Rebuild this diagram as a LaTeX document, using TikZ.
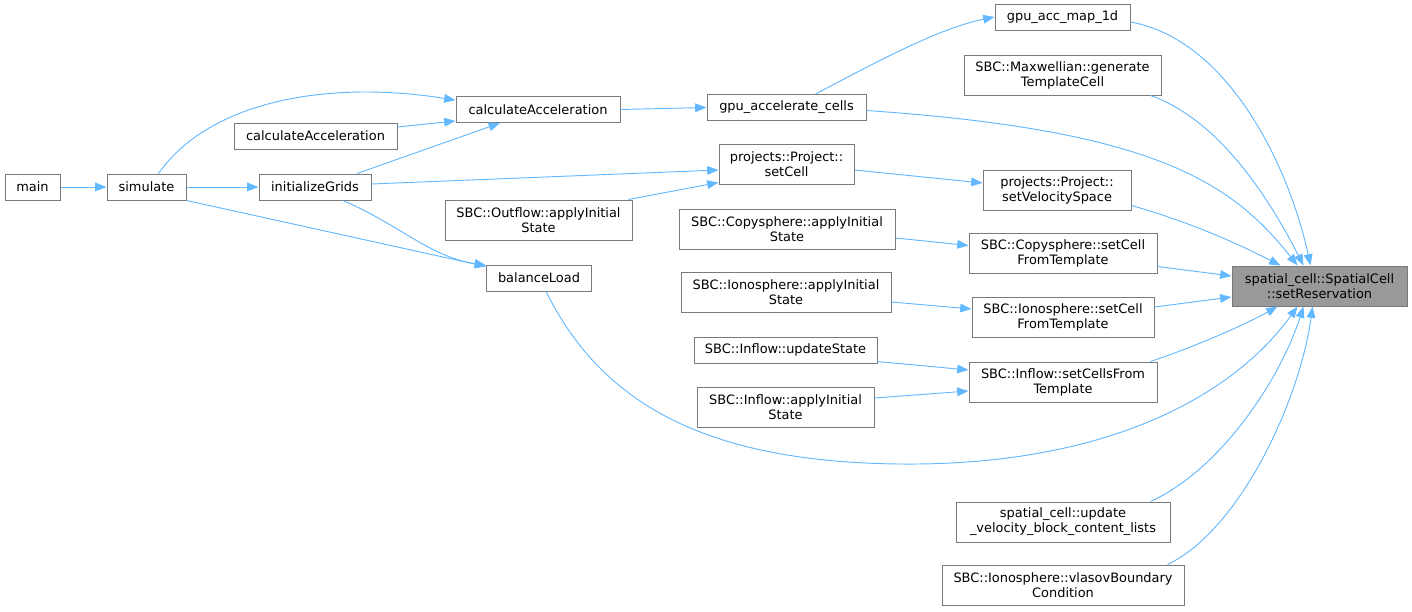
\documentclass[tikz,border=0pt]{standalone}
\usepackage{fontspec}
\setmainfont{DejaVu Sans}
\usetikzlibrary{arrows.meta}

\definecolor{edgeblue}{HTML}{63B8FF}
\definecolor{boxgray}{HTML}{7A7A7A}
\definecolor{rootgray}{HTML}{999999}

\tikzset{
  fn/.style={draw=boxgray, line width=0.75pt, fill=white, align=center, inner sep=1pt,
    font=\fontsize{9.7}{11.2}\selectfont},
  one/.style={fn, minimum height=19.5pt},
  two/.style={fn, minimum height=30pt},
  call/.style={->, draw=edgeblue, line width=0.7pt},
}

\begin{document}
\begin{tikzpicture}[x=0.75pt, y=-0.75pt, >={Triangle[length=8.5pt, width=6.5pt]}]
\useasboundingbox (0,0) rectangle (1412,611);

\node (main) [one, minimum width=41.25pt] at (32.5,187) {main};
\node (simulate) [one, minimum width=59.25pt] at (146.5,187) {simulate};
\node (initGrids) [one, minimum width=84pt] at (315,187) {initializeGrids};
\node (calcAccB) [one, minimum width=122.25pt] at (315.5,136) {calculateAcceleration};
\node (calcAcc) [one, minimum width=123pt] at (538,109.5) {calculateAcceleration};
\node (outflow) [two, minimum width=140.25pt] at (538.5,220) {SBC::Outflow::applyInitial\\State};
\node (balance) [one, minimum width=78.75pt] at (539,278) {balanceLoad};
\node (gpuCells) [one, minimum width=119.25pt] at (786.5,107.5) {gpu\_accelerate\_cells};
\node (setCell) [two, minimum width=101.25pt] at (786.5,164) {projects::Project::\\setCell};
\node (copyApply) [two, minimum width=162pt] at (787,229) {SBC::Copysphere::applyInitial\\State};
\node (ionoApply) [two, minimum width=157.5pt] at (786,292) {SBC::Ionosphere::applyInitial\\State};
\node (inflowUpd) [one, minimum width=137.25pt] at (785.5,350) {SBC::Inflow::updateState};
\node (inflowApply) [two, minimum width=132.75pt] at (785.5,407) {SBC::Inflow::applyInitial\\State};
\node (gpuMap) [one, minimum width=101.25pt] at (1062.5,17) {gpu\_acc\_map\_1d};
\node (maxwell) [two, minimum width=147.75pt] at (1062.5,75) {SBC::Maxwellian::generate\\TemplateCell};
\node (setVelSpace) [two, minimum width=111pt] at (1057,190) {projects::Project::\\setVelocitySpace};
\node (copySet) [two, minimum width=141pt] at (1063,253.5) {SBC::Copysphere::setCell\\FromTemplate};
\node (ionoSet) [two, minimum width=136.5pt] at (1063,317) {SBC::Ionosphere::setCell\\FromTemplate};
\node (inflowSet) [two, minimum width=141pt] at (1063,382) {SBC::Inflow::setCellsFrom\\Template};
\node (updLists) [two, minimum width=160.5pt] at (1063,522) {spatial\_cell::update\\\_velocity\_block\_content\_lists};
\node (vlasov) [two, minimum width=181.5pt] at (1063,585) {SBC::Ionosphere::vlasovBoundary\\Condition};
\node (setRes) [two, minimum width=131.25pt, fill=rootgray] at (1319.5,286) {spatial\_cell::SpatialCell\\::setReservation};

% left part of the call graph
\draw [call] (main.east) -- (simulate.west);
\draw [call] (simulate.east) -- (initGrids.west);
\draw [call] ([xshift=9pt]simulate.north) .. controls (210,100) and (330,80) .. ([yshift=7pt]calcAcc.west);
\draw [call] (simulate.south east) -- ([yshift=-1.5pt]balance.north west);
\draw [call] ([xshift=31.5pt]initGrids.north) -- ([xshift=-28.5pt]calcAcc.south);
\draw [call] ([yshift=2.25pt]initGrids.east) -- ([yshift=-4.5pt]setCell.west);
\draw [call] ([xshift=21pt]initGrids.south) .. controls (400,225) and (430,257) .. ([yshift=-0.5pt]balance.north west);
\draw [call] ([yshift=6.75pt]calcAccB.east) -- ([yshift=1.5pt]calcAcc.south west);
\draw [call] (calcAcc.east) -- (gpuCells.west);
\draw [call] ([xshift=21.75pt]gpuCells.north) .. controls (880,60) and (940,28) .. (gpuMap.west);
\draw [call] ([xshift=-3pt]outflow.north east) -- ([yshift=1.5pt]setCell.south west);
\draw [call] ([yshift=-4.5pt]setCell.east) -- ([yshift=5.25pt]setVelSpace.west);
\draw [call] ([yshift=-6.75pt]copyApply.east) -- ([yshift=6pt]copySet.west);
\draw [call] ([yshift=-7.5pt]ionoApply.east) -- ([yshift=6pt]ionoSet.west);
\draw [call] ([yshift=1.5pt]inflowUpd.south east) -- ([yshift=9pt]inflowSet.west);
\draw [call] ([yshift=6.75pt]inflowApply.east) -- ([yshift=-6.75pt]inflowSet.west);

% everything ends in setReservation
\draw [call] ([yshift=-3.75pt]gpuMap.east) .. controls (1230,40) and (1290,170) .. ([xshift=-6.75pt]setRes.north);
\draw [call] ([xshift=-8.25pt]maxwell.south east) .. controls (1220,120) and (1270,200) .. ([xshift=-12pt]setRes.north);
\draw [call] ([yshift=-2.25pt]gpuCells.east) .. controls (1150,130) and (1230,180) .. ([xshift=-16.5pt]setRes.north);
\draw [call] ([yshift=3.75pt]setVelSpace.south east) .. controls (1200,225) and (1250,250) .. ([xshift=-29.25pt]setRes.north);
\draw [call] ([yshift=-9.75pt]copySet.east) -- ([yshift=7.5pt]setRes.west);
\draw [call] ([yshift=7.5pt]ionoSet.east) -- ([yshift=-8.25pt]setRes.west);
\draw [call] ([xshift=-5.25pt]inflowSet.north east) .. controls (1200,345) and (1250,322) .. ([xshift=-31.5pt]setRes.south);
\draw [call] ([xshift=5.25pt]balance.south) .. controls (600,400) and (700,462) .. (900,464)
  .. controls (1100,466) and (1230,400) .. ([xshift=-16.5pt]setRes.south);
\draw [call] ([xshift=-15pt]updLists.north east) .. controls (1220,470) and (1280,380) .. ([xshift=-12pt]setRes.south);
\draw [call] ([xshift=-12.75pt]vlasov.north east) .. controls (1240,530) and (1300,400) .. ([xshift=-5.25pt]setRes.south);
\end{tikzpicture}
\end{document}
